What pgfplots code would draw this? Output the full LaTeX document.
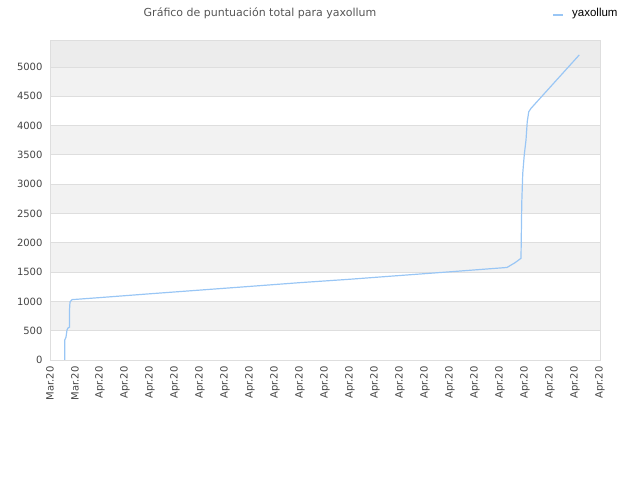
\documentclass[border=0pt]{standalone}
\usepackage{fontspec}
\setmainfont{DejaVu Sans}
\newfontfamily\legfont{Liberation Sans}
\usepackage{pgfplots}
\pgfplotsset{compat=1.18}

\definecolor{lineblue}{RGB}{153,198,245}
\definecolor{bandgray}{RGB}{242,242,242}
\definecolor{topgray}{RGB}{236,236,236}
\definecolor{gridgray}{RGB}{222,222,222}
\definecolor{ticktext}{RGB}{68,68,68}
\definecolor{titletext}{RGB}{85,85,85}

\pgfplotstableread{
u v
0.59 0
0.59 341
0.64 390
0.68 512
0.72 546
0.78 560
0.78 853
0.80 990
0.88 1030
2 1065
4 1130
6 1193
8 1256
10 1320
12 1378
14 1442
16 1505
18.28 1579
18.6 1660
18.84 1735
18.87 2674
18.91 3186
18.97 3498
19.04 3754
19.09 4067
19.15 4236
19.24 4294
21.17 5205
}\scores

\begin{document}
\begin{tikzpicture}
\path[use as bounding box] (-50pt,-120pt) rectangle (590pt,360pt);
\begin{axis}[
  scale only axis,
  width=550pt, height=320pt,
  xmin=0, xmax=22, ymin=0, ymax=5460,
  xtick={0,...,22},
  xticklabels={Mar.20,Mar.20,Apr.20,Apr.20,Apr.20,Apr.20,Apr.20,Apr.20,Apr.20,Apr.20,Apr.20,Apr.20,Apr.20,Apr.20,Apr.20,Apr.20,Apr.20,Apr.20,Apr.20,Apr.20,Apr.20,Apr.20,Apr.20},
  x tick label style={rotate=90, anchor=east, font=\fontsize{10}{12}\selectfont, text=ticktext},
  ytick={0,500,...,5000},
  y tick label style={font=\fontsize{10}{12}\selectfont, text=ticktext},
  /pgf/number format/assume math mode=true,
  /pgf/number format/1000 sep={},
  major tick length=0pt,
  axis line style={gridgray, line width=0.8pt},
  xticklabel shift=3pt,
  yticklabel shift=4pt,
  axis on top,
]
\fill[bandgray] (axis cs:0,500) rectangle (axis cs:22,1000);
\fill[bandgray] (axis cs:0,1500) rectangle (axis cs:22,2000);
\fill[bandgray] (axis cs:0,2500) rectangle (axis cs:22,3000);
\fill[bandgray] (axis cs:0,3500) rectangle (axis cs:22,4000);
\fill[bandgray] (axis cs:0,4500) rectangle (axis cs:22,5000);
\fill[topgray] (axis cs:0,5000) rectangle (axis cs:22,5460);
\foreach \k in {500,1000,...,5000} {
  \edef\temp{\noexpand\draw[gridgray, line width=0.8pt] (axis cs:0,\k) -- (axis cs:22,\k);}
  \temp
}
\addplot[lineblue, line width=1.2pt, mark=none] table[x=u, y=v] {\scores};
\end{axis}
\node[text=titletext, font=\fontsize{11}{13}\selectfont] at (210pt,347pt) {Gráfico de puntuación total para yaxollum};
\draw[lineblue, line width=2pt] (503pt,345pt) -- (513pt,345pt);
\node[anchor=west, font=\legfont\fontsize{11.5}{13}\selectfont, inner sep=0pt] at (522pt,346pt) {yaxollum};
\end{tikzpicture}
\end{document}
